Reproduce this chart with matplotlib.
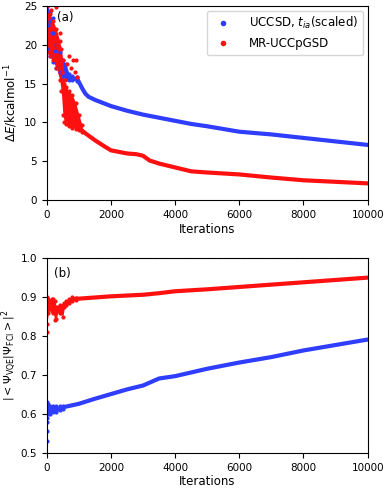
import numpy as np
import matplotlib.pyplot as plt

# ---- data ----
# (a) energy error, smooth part
it_a_blue = [950, 1000, 1100, 1200, 1300, 1500, 2000, 2500, 3000, 3500, 4000, 4500, 5000, 6000, 7000, 8000, 9000, 10000]
de_blue = [15.6, 15.2, 14.4, 13.7, 13.3, 12.9, 12.1, 11.5, 11.0, 10.6, 10.2, 9.8, 9.5, 8.8, 8.45, 8.0, 7.55, 7.1]
it_a_red = [1000, 1200, 1500, 1800, 2000, 2500, 2800, 3000, 3200, 3500, 4000, 4500, 5000, 6000, 7000, 8000, 9000, 10000]
de_red = [9.3, 8.6, 7.7, 6.9, 6.4, 6.0, 5.9, 5.7, 5.1, 4.7, 4.2, 3.7, 3.55, 3.3, 2.9, 2.55, 2.35, 2.15]

# (a) noisy start: envelopes
it_a_red_n = [0, 100, 200, 300, 400, 450, 500, 550, 600, 700, 800, 900, 1000, 1100]
de_red_lo = [19, 18.5, 18, 17, 15.5, 14, 11, 10, 9.8, 9.5, 9.3, 9.2, 9.0, 8.8]
de_red_hi = [25, 24, 23, 22, 20.5, 19.5, 18, 15, 14.5, 14, 13.5, 12.5, 11, 9.6]
it_a_blue_n = [0, 100, 200, 300, 400, 500, 600, 700, 800, 950]
de_blue_lo = [19.5, 18.5, 17.8, 17.0, 16.5, 16.0, 15.6, 15.5, 15.4, 15.3]
de_blue_hi = [24.5, 23, 21.5, 20, 19, 18, 17.5, 16.2, 16.0, 15.9]
# (a) scattered outliers
out_red_x = [20, 60, 120, 170, 230, 290, 330, 420, 480, 560, 640, 700, 760, 820, 880, 900, 940]
out_red_y = [23.5, 21, 24.5, 20.5, 22, 24.8, 20, 21.5, 16.5, 15.5, 17.5, 18.5, 17, 18, 16.5, 18, 15.8]
out_blue_x = [10, 40, 90, 150, 190, 260]
out_blue_y = [24.8, 22.5, 24.2, 21.5, 23.5, 19.2]

# (b) overlap with FCI
it_b = [900, 1000, 1500, 2000, 2500, 3000, 3500, 4000, 5000, 6000, 7000, 8000, 9000, 10000]
ov_red = [0.896, 0.896, 0.899, 0.902, 0.904, 0.906, 0.910, 0.915, 0.920, 0.926, 0.932, 0.938, 0.944, 0.950]
it_b_blue = [500, 1000, 1500, 2000, 2500, 3000, 3500, 4000, 5000, 6000, 7000, 8000, 9000, 10000]
ov_blue = [0.617, 0.626, 0.639, 0.651, 0.663, 0.673, 0.691, 0.697, 0.716, 0.732, 0.746, 0.763, 0.777, 0.791]

it_b_red_n = [0, 50, 100, 150, 200, 250, 300, 350, 400, 450, 500, 550, 600, 700, 800, 900]
ov_red_lo = [0.83, 0.86, 0.87, 0.865, 0.86, 0.84, 0.845, 0.865, 0.86, 0.86, 0.85, 0.875, 0.88, 0.885, 0.89, 0.893]
ov_red_hi = [0.90, 0.895, 0.89, 0.895, 0.895, 0.89, 0.875, 0.875, 0.88, 0.875, 0.88, 0.885, 0.89, 0.895, 0.90, 0.898]
it_b_blue_n = [0, 50, 100, 200, 300, 400, 500]
ov_blue_lo = [0.59, 0.60, 0.60, 0.605, 0.605, 0.61, 0.613]
ov_blue_hi = [0.63, 0.625, 0.62, 0.62, 0.62, 0.62, 0.621]
out_b_x = [0, 0, 0, 0]
out_b_y = [0.53, 0.555, 0.58, 0.81]

blue = '#2f3dff'
red = '#ff1010'
lw = 3.0


def noisy(ax, x, lo, hi, c):
    # filled band plus dots on its edges, to mimic the scattered points
    ax.fill_between(x, lo, hi, color=c, lw=0)
    ax.plot(x, lo, '.', color=c, ms=4)
    ax.plot(x, hi, '.', color=c, ms=4)


plt.rcParams['font.size'] = 7.5
plt.rcParams['axes.labelsize'] = 8.5
fig = plt.figure(figsize=(3.87, 4.88), dpi=100)

ax1 = fig.add_axes([0.121, 0.590, 0.829, 0.398])
noisy(ax1, it_a_blue_n, de_blue_lo, de_blue_hi, blue)
ax1.plot(it_a_blue, de_blue, color=blue, lw=lw, solid_capstyle='round')
ax1.plot(out_blue_x, out_blue_y, '.', color=blue, ms=4)
noisy(ax1, it_a_red_n, de_red_lo, de_red_hi, red)
ax1.plot(it_a_red, de_red, color=red, lw=lw, solid_capstyle='round')
ax1.plot(out_red_x, out_red_y, '.', color=red, ms=4)
ax1.plot([], [], '.', color=blue, label='UCCSD, $t_{ia}$(scaled)')
ax1.plot([], [], '.', color=red, label='MR-UCCpGSD')
ax1.set_xlim(0, 10000)
ax1.set_ylim(0, 25)
ax1.set_xlabel('Iterations', labelpad=2)
ax1.set_ylabel(r'$\Delta E$/kcalmol$^{-1}$', labelpad=3)
ax1.text(560, 23.5, '(a)', ha='center', va='center', fontsize=8.5)
ax1.legend(loc='upper right', fontsize=8.5, handletextpad=1.2, borderaxespad=0.4)

ax2 = fig.add_axes([0.121, 0.072, 0.829, 0.399])
noisy(ax2, it_b_blue_n, ov_blue_lo, ov_blue_hi, blue)
ax2.plot(it_b_blue, ov_blue, color=blue, lw=lw, solid_capstyle='round')
ax2.plot(out_b_x[:3], out_b_y[:3], '.', color=blue, ms=4)
noisy(ax2, it_b_red_n, ov_red_lo, ov_red_hi, red)
ax2.plot(it_b, ov_red, color=red, lw=lw, solid_capstyle='round')
ax2.plot(out_b_x[3:], out_b_y[3:], '.', color=red, ms=4)
ax2.axhline(1.0, color='gray', ls='--', lw=0.8)
ax2.set_xlim(0, 10000)
ax2.set_ylim(0.5, 1.0)
ax2.set_xlabel('Iterations', labelpad=2)
ax2.set_ylabel(r'$|<\Psi_{\rm VQE}|\Psi_{\rm FCI}>|^2$', fontsize=8, labelpad=1)
ax2.text(500, 0.96, '(b)', ha='center', va='center', fontsize=8.5)

fig.savefig('out.png', dpi=100)
